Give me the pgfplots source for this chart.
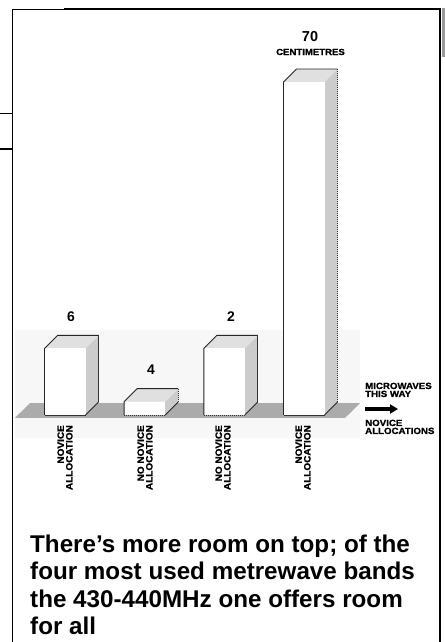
\documentclass[border=0pt]{standalone}
\usepackage{fontspec}
\setmainfont{Liberation Sans}
\newfontfamily\widesans[FakeStretch=1.08, FakeBold=1.2]{Liberation Sans}
\usepackage{pgfplots}
\usepackage{pgfplotstable}
\pgfplotsset{compat=1.18}
\usetikzlibrary{arrows.meta}

% bandwidth of each band (MHz), as drawn
\pgfplotstableread{
band v
6 2
4 0.4
2 2
70 10
}\bardata

% face templates of a pseudo-3D box: fx = left/right, dd = depth, fv = base/top
\pgfplotstableread{
fx dd fv
0 0 0
1 0 0
1 0 1
0 0 1
}\frontface
\pgfplotstableread{
fx dd fv
1 0 0
1 1 0
1 1 1
1 0 1
}\rightface
\pgfplotstableread{
fx dd fv
0 0 1
0 1 1
1 1 1
1 0 1
}\topface
\pgfplotstableread{
fx dd fv
0 0 0
0 0 1
0 1 1
1 1 1
}\outlinea
\pgfplotstableread{
fx dd fv
1 1 1
1 1 0
}\outlineb
\pgfplotstableread{
fx dd fv
1 1 0
1 0 0
}\outlinec
\pgfplotstableread{
fx dd fv
1 0 0
0 0 0
}\outlined

\newcommand{\boxpart}[4]{%
  \addplot[#3] table[x expr={#1-0.2573+\thisrow{fx}*0.5146+\thisrow{dd}*0.1632},
                     y expr={\thisrow{fv}*#2+\thisrow{dd}*0.39}]{#4};}
\newcommand{\threedbar}[2]{%
  \boxpart{#1}{#2}{fill=black!20, draw=none}{\rightface}
  \boxpart{#1}{#2}{fill=black!12, draw=none}{\topface}
  \boxpart{#1}{#2}{fill=white, draw=none}{\frontface}
  \boxpart{#1}{#2}{draw=black!85, line width=0.9bp, line join=round}{\outlinea}
  \boxpart{#1}{#2}{draw=black!80, line width=0.9bp, dash pattern=on 1.3bp off 0.7bp}{\outlineb}
  \boxpart{#1}{#2}{draw=black!85, line width=0.9bp}{\outlinec}
  \boxpart{#1}{#2}{draw=black!80, line width=0.9bp, dash pattern=on 1.3bp off 0.7bp}{\outlined}
}

\begin{document}
\begin{tikzpicture}[line cap=butt]
\begin{axis}[
  at={(0,0)}, anchor=south west,
  scale only axis, width=445bp, height=642bp,
  xmin=-0.8159, xmax=4.7697, ymin=-6.8168, ymax=12.4625,
  hide axis, no markers, clip=false]
  % faint backdrop
  \addplot[fill=black!3, draw=none] coordinates {(-0.6276,-0.69) (3.7028,-0.69) (3.7028,2.55) (-0.6276,2.55)};
  % ground plane
  \addplot[fill=black!33, draw=none] coordinates {(-0.6276,-0.09) (3.5145,-0.09) (3.7028,0.36) (-0.4393,0.36)};
  \pgfplotsinvokeforeach{0,...,3}{%
    \pgfplotstablegetelem{#1}{v}\of\bardata
    \edef\tmp{\noexpand\threedbar{#1}{\pgfplotsretval}}\tmp
  }
\end{axis}

% frame
\draw[line width=1.3bp] (12.5bp,0bp) -- (12.5bp,632.5bp) -- (64bp,632.5bp);
\draw[line width=2.1bp] (64bp,633bp) -- (441bp,633bp);
\draw[line width=1.9bp] (440bp,634bp) -- (440bp,0bp);
\fill[black!40] (441.5bp,634bp) rectangle (445bp,585bp);
\draw[line width=1.3bp] (0bp,528.5bp) -- (12.5bp,528.5bp);
\draw[line width=1.3bp] (0bp,493bp) -- (12.5bp,493bp);

% value labels
\node[font=\bfseries\fontsize{14}{14}\selectfont, inner sep=0pt] at (71bp,325bp) {6};
\node[font=\bfseries\fontsize{14}{14}\selectfont, inner sep=0pt] at (151bp,272bp) {4};
\node[font=\bfseries\fontsize{14}{14}\selectfont, inner sep=0pt] at (231bp,325bp) {2};
\node[font=\bfseries\fontsize{14.5}{14}\selectfont, inner sep=0pt] at (310bp,605bp) {70};
\node[font=\widesans\bfseries\fontsize{8.9}{9}\selectfont, inner sep=0pt] at (310.5bp,590bp) {CENTIMETRES};

% category labels
\tikzset{catlabel/.style={rotate=90, anchor=east, align=right, inner sep=0pt,
  font=\widesans\bfseries\fontsize{9.3}{8.6}\selectfont}}
\node[catlabel] at (65bp,217bp) {NOVICE\\ALLOCATION};
\node[catlabel] at (145bp,217bp) {NO NOVICE\\ALLOCATION};
\node[catlabel] at (223bp,217bp) {NO NOVICE\\ALLOCATION};
\node[catlabel] at (303bp,217bp) {NOVICE\\ALLOCATION};

% right-hand legend
\tikzset{sidelabel/.style={anchor=base west, inner sep=0pt,
  font=\widesans\bfseries\fontsize{9}{8}\selectfont}}
\node[sidelabel] at (365bp,253bp) {MICROWAVES};
\node[sidelabel] at (365bp,245bp) {THIS WAY};
\draw[line width=3.5bp, -{Triangle[length=8bp,width=9bp]}] (365bp,233bp) -- (398bp,233bp);
\node[sidelabel] at (365bp,216bp) {NOVICE};
\node[sidelabel] at (365bp,208bp) {ALLOCATIONS};

% caption
\tikzset{captext/.style={anchor=base west, inner sep=0pt,
  font=\bfseries\fontsize{24.3}{27}\selectfont}}
\node[captext] at (30bp,89bp) {There’s more room on top; of the};
\node[captext] at (30bp,62bp) {four most used metrewave bands};
\node[captext] at (30bp,35bp) {the 430-440MHz one offers room};
\node[captext] at (30bp,8bp) {for all};

\pgfresetboundingbox
\path[use as bounding box] (0,0) rectangle (445bp,642bp);
\end{tikzpicture}
\end{document}
